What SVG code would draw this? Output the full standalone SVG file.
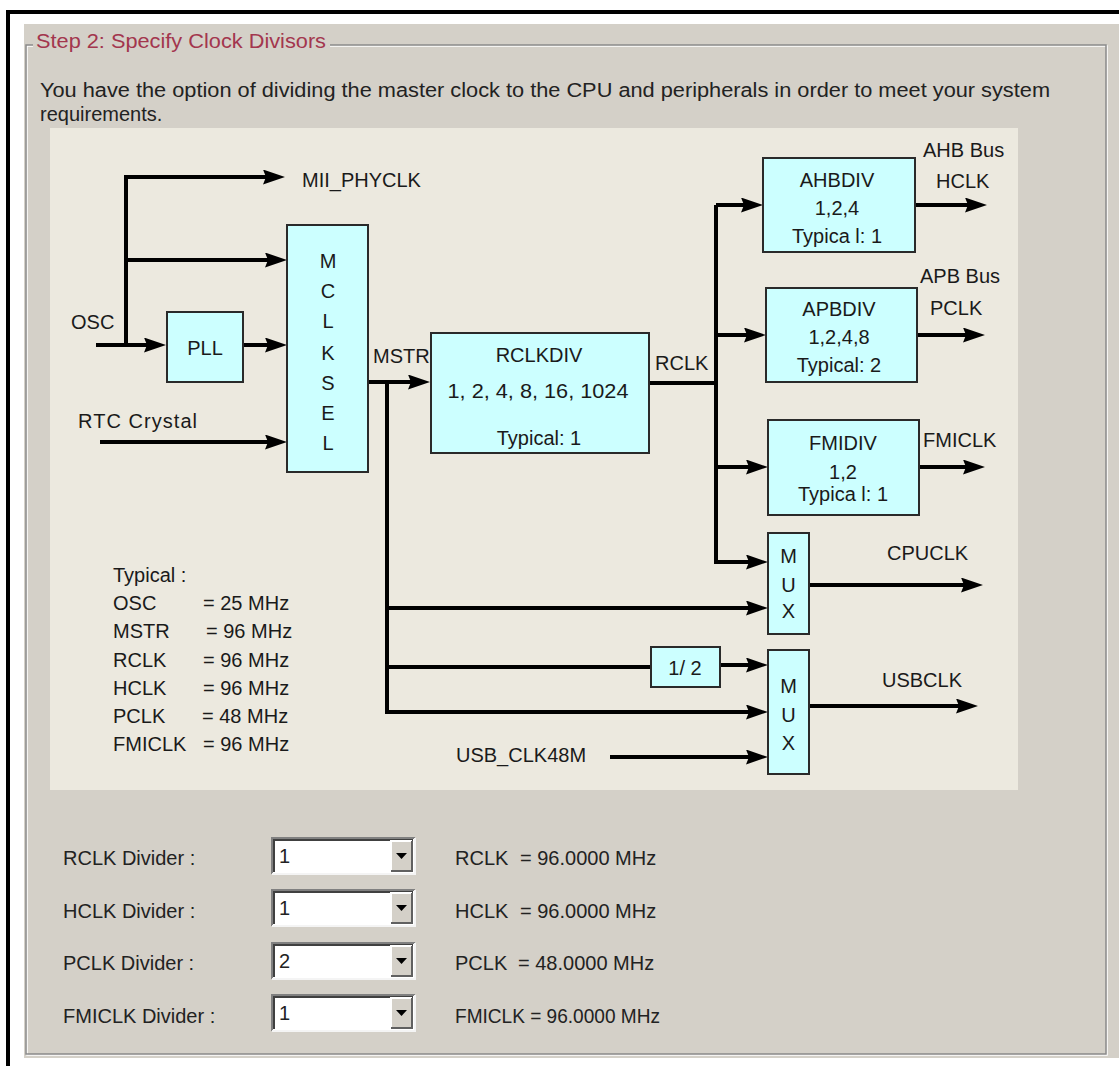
<svg xmlns="http://www.w3.org/2000/svg" width="1119" height="1066" viewBox="0 0 1119 1066">
<defs>
<style>
.t{font-family:"Liberation Sans",Arial,sans-serif;font-size:20px;fill:#1a1a1a}
.c{text-anchor:middle}
.box{fill:#ccffff;stroke:#2a2a2a;stroke-width:2}
.ln{fill:none;stroke:#000;stroke-width:4}
.ar{marker-end:url(#ah)}
.ui{font-family:"Liberation Sans",Arial,sans-serif;font-size:20px;fill:#222}
</style>
<marker id="ah" markerUnits="userSpaceOnUse" markerWidth="22" markerHeight="15" viewBox="0 0 22 15" refX="10" refY="7.5" orient="auto">
<path d="M0,0 L22,7.5 L0,15 L3,7.5 z" fill="#000"/>
</marker>
<g id="combo">
<rect x="0" y="0" width="143" height="36" fill="#fff"/>
<path d="M0,36 V0 H143" fill="none" stroke="#808080" stroke-width="2"/>
<path d="M2,34 V2 H141" fill="none" stroke="#404040" stroke-width="2"/>
<path d="M0,36 H143 V0" fill="none" stroke="#f4f4f4" stroke-width="2"/>
<rect x="119" y="3" width="21" height="30" fill="#d4d0c8"/>
<path d="M119,33 V3 H140" fill="none" stroke="#fff" stroke-width="2"/>
<path d="M119,33 H140 V3" fill="none" stroke="#606060" stroke-width="2"/>
<path d="M124,15 H135 L129.5,21 z" fill="#000"/>
</g>
</defs>
<rect width="1119" height="1066" fill="#fff"/>
<rect x="24" y="24" width="1095" height="1034" fill="#d4d0c8"/>
<rect x="6" y="10" width="1113" height="4" fill="#000"/>
<rect x="6" y="10" width="4" height="1056" fill="#000"/>
<g id="groupbox">
<rect x="27" y="46" width="1080" height="1009" fill="none" stroke="#fff" stroke-width="1.5"/>
<rect x="26" y="45" width="1080" height="1009" fill="none" stroke="#8a8a8a" stroke-width="1.5"/>
<rect x="33" y="34" width="297" height="20" fill="#d4d0c8"/>
<text class="ui" x="36" y="48" textLength="290" lengthAdjust="spacingAndGlyphs" style="fill:#a3364e">Step 2: Specify Clock Divisors</text>
<text class="ui" x="40" y="97" textLength="1010" lengthAdjust="spacingAndGlyphs">You have the option of dividing the master clock to the CPU and peripherals in order to meet your system</text>
<text class="ui" x="40" y="121">requirements.</text>
</g>
<rect id="panel" x="50" y="128" width="968" height="662" fill="#ece9df"/>
<g id="connectors">
<path class="ln ar" d="M96,345 H154"/>
<path class="ln ar" d="M126,345 V177 H273"/>
<path class="ln ar" d="M126,260 H275"/>
<path class="ln ar" d="M243,345 H275"/>
<path class="ln ar" d="M100,442 H275"/>
<path class="ln ar" d="M368,382 H418"/>
<path class="ln ar" d="M387,382 V712 H756"/>
<path class="ln ar" d="M387,608 H756"/>
<path class="ln" d="M387,667 H651"/>
<path class="ln ar" d="M720,665 H756"/>
<path class="ln ar" d="M610,757 H756"/>
<path class="ln" d="M649,383 H716"/>
<path class="ln ar" d="M716,205 V562 H756"/>
<path class="ln ar" d="M716,205 H751"/>
<path class="ln ar" d="M716,335 H754"/>
<path class="ln ar" d="M716,467 H756"/>
<path class="ln ar" d="M915,205 H975"/>
<path class="ln ar" d="M917,335 H973"/>
<path class="ln ar" d="M919,467 H973"/>
<path class="ln ar" d="M809,585 H971"/>
<path class="ln ar" d="M809,706 H966"/>
</g>
<g id="pll">
<rect class="box" x="167" y="312" width="76" height="70"/>
<text class="t c" x="205" y="355">PLL</text>
</g>
<g id="mclksel">
<rect class="box" x="287" y="225" width="81" height="247"/>
<text class="t c" x="328" y="268">M</text>
<text class="t c" x="328" y="298">C</text>
<text class="t c" x="328" y="328">L</text>
<text class="t c" x="328" y="360">K</text>
<text class="t c" x="328" y="390">S</text>
<text class="t c" x="328" y="420">E</text>
<text class="t c" x="328" y="450">L</text>
</g>
<g id="rclkdiv">
<rect class="box" x="431" y="333" width="218" height="120"/>
<text class="t c" x="539" y="362">RCLKDIV</text>
<text class="t c" x="538" y="398" textLength="181" lengthAdjust="spacingAndGlyphs">1, 2, 4, 8, 16, 1024</text>
<text class="t c" x="539" y="445">Typical: 1</text>
</g>
<g id="ahbdiv">
<rect class="box" x="763" y="158" width="152" height="94"/>
<text class="t c" x="837" y="187">AHBDIV</text>
<text class="t c" x="837" y="215">1,2,4</text>
<text class="t c" x="837" y="243">Typica l: 1</text>
</g>
<g id="apbdiv">
<rect class="box" x="766" y="288" width="151" height="94"/>
<text class="t c" x="839" y="316">APBDIV</text>
<text class="t c" x="839" y="344">1,2,4,8</text>
<text class="t c" x="839" y="372">Typical: 2</text>
</g>
<g id="fmidiv">
<rect class="box" x="768" y="420" width="151" height="95"/>
<text class="t c" x="843" y="450">FMIDIV</text>
<text class="t c" x="843" y="479">1,2</text>
<text class="t c" x="843" y="501">Typica l: 1</text>
</g>
<g id="mux-cpu">
<rect class="box" x="768" y="533" width="41" height="101"/>
<text class="t c" x="788.5" y="563">M</text>
<text class="t c" x="788.5" y="592">U</text>
<text class="t c" x="788.5" y="618">X</text>
</g>
<g id="mux-usb">
<rect class="box" x="768" y="650" width="41" height="124"/>
<text class="t c" x="788.5" y="693">M</text>
<text class="t c" x="788.5" y="722">U</text>
<text class="t c" x="788.5" y="750">X</text>
</g>
<g id="div2">
<rect class="box" x="651" y="647" width="69" height="40"/>
<text class="t c" x="685" y="675">1/ 2</text>
</g>
<g id="labels">
<text class="t" x="302" y="187">MII_PHYCLK</text>
<text class="t" x="71" y="329">OSC</text>
<text class="t" x="78" y="428" textLength="119" lengthAdjust="spacing">RTC Crystal</text>
<text class="t" x="373" y="363">MSTR</text>
<text class="t" x="655" y="370">RCLK</text>
<text class="t" x="923" y="157">AHB Bus</text>
<text class="t" x="936" y="188">HCLK</text>
<text class="t" x="920" y="283">APB Bus</text>
<text class="t" x="930" y="315">PCLK</text>
<text class="t" x="923" y="447">FMICLK</text>
<text class="t" x="887" y="560">CPUCLK</text>
<text class="t" x="882" y="687">USBCLK</text>
<text class="t" x="456" y="762">USB_CLK48M</text>
</g>
<g id="typical">
<text class="t" x="113" y="582">Typical :</text>
<text class="t" y="610"><tspan x="113">OSC</tspan><tspan x="203">= 25 MHz</tspan></text>
<text class="t" y="638"><tspan x="113">MSTR</tspan><tspan x="206">= 96 MHz</tspan></text>
<text class="t" y="667"><tspan x="113">RCLK</tspan><tspan x="203">= 96 MHz</tspan></text>
<text class="t" y="695"><tspan x="113">HCLK</tspan><tspan x="203">= 96 MHz</tspan></text>
<text class="t" y="723"><tspan x="113">PCLK</tspan><tspan x="202">= 48 MHz</tspan></text>
<text class="t" y="751"><tspan x="113">FMICLK</tspan><tspan x="203">= 96 MHz</tspan></text>
</g>
<g id="controls">
<text class="ui" x="63" y="865">RCLK Divider :</text>
<text class="ui" x="63" y="918">HCLK Divider :</text>
<text class="ui" x="63" y="970">PCLK Divider :</text>
<text class="ui" x="63" y="1023">FMICLK Divider :</text>
<use href="#combo" x="272" y="838"/>
<use href="#combo" x="272" y="890"/>
<use href="#combo" x="272" y="943"/>
<use href="#combo" x="272" y="995"/>
<text class="ui" x="279" y="863">1</text>
<text class="ui" x="279" y="915">1</text>
<text class="ui" x="279" y="968">2</text>
<text class="ui" x="279" y="1020">1</text>
<text class="ui" x="455" y="865">RCLK</text>
<text class="ui" x="520" y="865">= 96.0000 MHz</text>
<text class="ui" x="455" y="918">HCLK</text>
<text class="ui" x="520" y="918">= 96.0000 MHz</text>
<text class="ui" x="455" y="970">PCLK</text>
<text class="ui" x="518" y="970">= 48.0000 MHz</text>
<text class="ui" x="455" y="1023" textLength="205" lengthAdjust="spacingAndGlyphs">FMICLK = 96.0000 MHz</text>
</g>
</svg>
